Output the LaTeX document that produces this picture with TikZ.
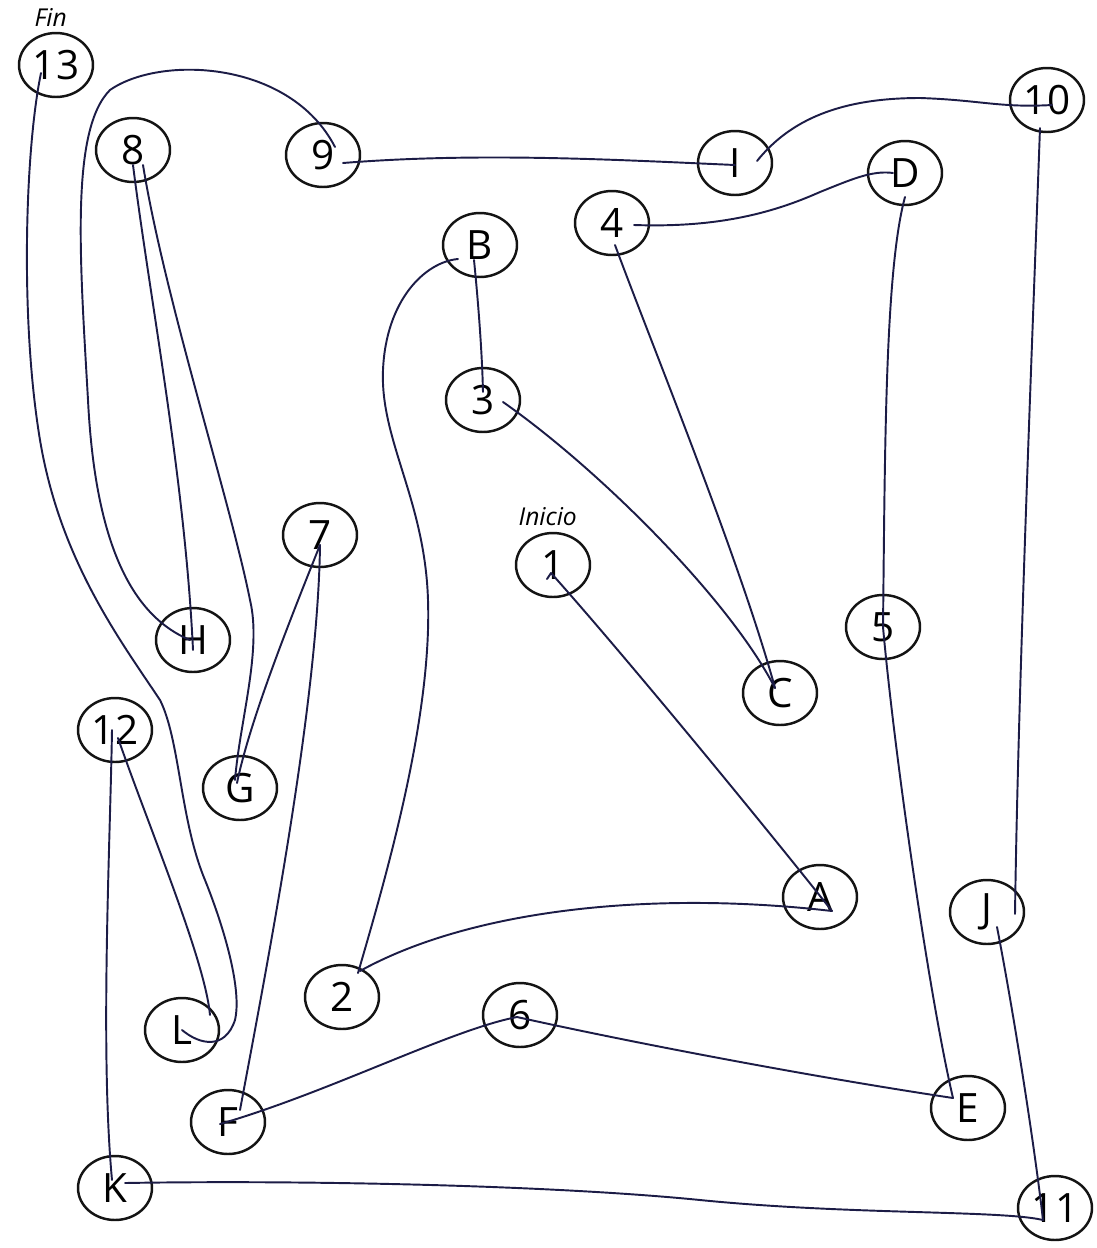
\documentclass[tikz,border=0pt]{standalone}
\usepackage{fontspec}
\setmainfont{Open Sans}
\usetikzlibrary{shapes.geometric, positioning, calc}
\definecolor{penblue}{HTML}{1C1C46}
\definecolor{ringblack}{HTML}{141414}

\begin{document}
\begin{tikzpicture}[
    x=0.02cm, y=-0.02cm,
    font=\fontsize{23}{26}\selectfont,
    tmtnode/.style={draw=ringblack, ellipse, line width=1.4pt, minimum width=1.48cm, minimum height=1.28cm, inner sep=0pt},
    tmtlabel/.style={font=\fontsize{14}{16}\selectfont\itshape, inner sep=1pt},
    penline/.style={draw=penblue, line width=1.1pt, line cap=round, line join=round}
]
\useasboundingbox (0,0) rectangle (1096,1248);

% Numbers
\node[tmtnode] (n1) at (553,565) {1};
\node[tmtnode] (n2) at (342,997) {2};
\node[tmtnode] (n3) at (483,400) {3};
\node[tmtnode] (n4) at (612,223) {4};
\node[tmtnode] (n5) at (883,627) {5};
\node[tmtnode] (n6) at (520,1015) {6};
\node[tmtnode] (n7) at (320,535) {7};
\node[tmtnode] (n8) at (133,150) {8};
\node[tmtnode] (n9) at (323,155) {9};
\node[tmtnode] (n10) at (1047,100) {10};
\node[tmtnode] (n11) at (1055,1208) {11};
\node[tmtnode] (n12) at (115,730) {12};
\node[tmtnode] (n13) at (56,65) {13};

% Letters
\node[tmtnode] (nA) at (820,897) {A};
\node[tmtnode] (nB) at (480,245) {B};
\node[tmtnode] (nC) at (780,693) {C};
\node[tmtnode] (nD) at (905,173) {D};
\node[tmtnode] (nE) at (968,1108) {E};
\node[tmtnode] (nF) at (228,1122) {F};
\node[tmtnode] (nG) at (240,788) {G};
\node[tmtnode] (nH) at (193,640) {H};
\node[tmtnode] (nI) at (735,163) {I};
\node[tmtnode] (nJ) at (987,912) {J};
\node[tmtnode] (nK) at (115,1188) {K};
\node[tmtnode] (nL) at (182,1030) {L};

% Start / end
\node[tmtlabel, above=2pt of n1, xshift=-3pt] (inicio) {Inicio};
\node[tmtlabel, above=2pt of n13, xshift=-3pt] (fin) {Fin};

% Trail 1-A-2-B-...
\draw[penline] ($(n1)+(-6,14)$) -- ($(n1)+(-2,8)$) .. controls (620,650) and (760,820) .. ($(nA)+(12,14)$);
\draw[penline] ($(nA)+(12,14)$) .. controls (650,890) and (470,910) .. ($(n2)+(18,-26)$);
\draw[penline] ($(n2)+(16,-24)$) .. controls (385,880) and (432,720) .. (428,600)
    .. controls (425,500) and (380,440) .. (383,370)
    .. controls (386,300) and (425,262) .. ($(nB)+(-22,14)$);
\draw[penline] ($(nB)+(-6,15)$) .. controls (478,300) and (482,350) .. ($(n3)+(0,-8)$);
\draw[penline] ($(n3)+(20,2)$) .. controls (600,470) and (730,600) .. ($(nC)+(-5,-5)$);
\draw[penline] ($(nC)+(-5,-5)$) .. controls (740,560) and (650,340) .. ($(n4)+(3,22)$);
\draw[penline] ($(n4)+(22,2)$) .. controls (720,228) and (775,212) .. (820,192)
    .. controls (850,180) and (872,170) .. ($(nD)+(-12,0)$);
\draw[penline] ($(nD)+(0,24)$) .. controls (885,270) and (885,450) .. (n5.center);
\draw[penline] (n5.center) .. controls (895,760) and (930,1000) .. ($(nE)+(-15,-10)$);
\draw[penline] ($(nE)+(-15,-10)$) .. controls (800,1075) and (620,1040) .. ($(n6)+(-3,2)$);
\draw[penline] ($(n6)+(-3,2)$) .. controls (450,1030) and (330,1092) .. ($(nF)+(-8,2)$);
\draw[penline] ($(nF)+(12,-12)$) .. controls (270,950) and (318,700) .. ($(n7)+(0,10)$);
\draw[penline] ($(n7)+(0,10)$) .. controls (290,620) and (250,720) .. ($(nG)+(-3,-5)$);
\draw[penline] ($(nG)+(-5,-8)$) .. controls (240,720) and (262,650) .. (250,600)
    .. controls (230,500) and (165,300) .. ($(n8)+(10,15)$);
\draw[penline] ($(n8)+(0,15)$) .. controls (150,300) and (185,480) .. ($(nH)+(0,10)$);
\draw[penline] ($(nH)+(-3,0)$) .. controls (130,615) and (95,540) .. (88,400)
    .. controls (80,260) and (70,130) .. (110,90)
    .. controls (160,55) and (290,60) .. ($(n9)+(12,-8)$);
\draw[penline] ($(n9)+(20,8)$) .. controls (480,152) and (620,160) .. ($(nI)+(0,2)$);
\draw[penline] ($(nI)+(22,-2)$) .. controls (790,120) and (840,98) .. (920,98)
    .. controls (980,100) and (1000,108) .. ($(n10)+(5,5)$);
\draw[penline] ($(n10)+(-7,28)$) .. controls (1030,400) and (1018,700) .. ($(nJ)+(28,2)$);
\draw[penline] ($(nJ)+(10,15)$) .. controls (1015,1020) and (1035,1150) .. ($(n11)+(-12,12)$);
\draw[penline] ($(n11)+(-12,12)$) .. controls (1000,1210) and (850,1215) .. (700,1200)
    .. controls (550,1185) and (300,1180) .. ($(nK)+(10,-5)$);
\draw[penline] ($(nK)+(-3,-8)$) .. controls (100,1050) and (110,850) .. ($(n12)+(-3,0)$);
\draw[penline] ($(n12)+(3,8)$) .. controls (150,830) and (205,960) .. ($(nL)+(28,-15)$);
\draw[penline] (nL.center) .. controls (200,1045) and (225,1050) .. (235,1020)
    .. controls (242,990) and (225,930) .. (205,880)
    .. controls (180,820) and (180,740) .. (160,700)
    .. controls (120,640) and (60,560) .. (40,440)
    .. controls (20,320) and (25,150) .. ($(n13)+(-15,8)$);

\end{tikzpicture}
\end{document}
